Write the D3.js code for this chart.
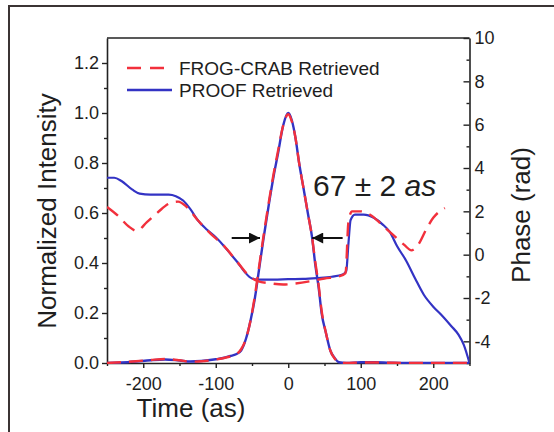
<!DOCTYPE html>
<html>
<head>
<meta charset="utf-8">
<script src="https://cdn.jsdelivr.net/npm/d3@7"></script>
<style>
  html, body { margin: 0; padding: 0; background: #fff; }
  svg { display: block; }
  text { font-family: "Liberation Sans", Arial, sans-serif; fill: #1e1e1e; }
</style>
</head>
<body>
<script>
// ---- Data ----
const timeIntensity = [-250,-230,-210,-190,-170,-150,-135,-120,-100,-90,-80,-72,-65,-58,-52,-46,-40,-34,-27,-20,-14,-7,0,5,10,15,21,27,33,37,42,46,52,58,64,70,80,100,120,140,170,250];
const proofIntensity = [0,0.002,0.006,0.011,0.014,0.01,0.006,0.008,0.015,0.02,0.028,0.035,0.05,0.1,0.17,0.26,0.38,0.5,0.63,0.75,0.84,0.95,1.0,0.97,0.9,0.8,0.7,0.6,0.5,0.4,0.3,0.2,0.12,0.05,0.02,0.003,0,0.003,0.003,0.001,0,0];
const frogIntensity  = [0,0.003,0.007,0.012,0.016,0.011,0.005,0.007,0.014,0.019,0.026,0.034,0.055,0.1,0.17,0.27,0.39,0.51,0.64,0.76,0.85,0.95,0.995,0.965,0.9,0.8,0.7,0.6,0.5,0.41,0.31,0.21,0.12,0.05,0.018,0.002,0,0.002,0.002,0.001,0,0];

const timePhaseProof = [-250,-240,-230,-215,-205,-190,-165,-155,-145,-135,-125,-112,-100,-90,-80,-70,-60,-50,-40,-20,0,20,40,60,75,80,83,86,92,104,118,130,140,150,163,175,187,200,211,225,235,242,250];
const proofPhase     = [3.55,3.55,3.4,3.0,2.82,2.77,2.77,2.7,2.5,2.1,1.6,1.15,0.8,0.45,0.05,-0.35,-0.8,-1.1,-1.15,-1.15,-1.13,-1.12,-1.08,-1.02,-0.92,-0.75,0.5,1.6,1.85,1.85,1.7,1.4,1.05,0.4,-0.3,-1.1,-1.85,-2.4,-2.77,-3.3,-3.7,-4.15,-5.0];

const timePhaseFrog = [-250,-235,-220,-209,-195,-180,-165,-152,-140,-125,-105,-90,-70,-55,-42,-25,-7,10,30,50,70,79,83,88,100,115,130,145,160,170,180,190,200,216];
const frogPhase     = [2.2,1.8,1.3,1.1,1.5,1.95,2.35,2.45,2.2,1.6,0.9,0.45,-0.35,-0.95,-1.22,-1.32,-1.38,-1.33,-1.23,-1.1,-1.0,-0.85,1.5,2.0,2.0,1.8,1.35,0.9,0.45,0.2,0.5,1.15,1.7,2.15];

const timeTicks = [-200,-100,0,100,200];
const intensityTicks = [0,0.2,0.4,0.6,0.8,1.0,1.2];
const phaseTicks = [-4,-2,0,2,4,6,8,10];
const seriesNames = ["FROG-CRAB Retrieved","PROOF Retrieved"];

// ---- Layout ----
const W = 554, H = 432;
const L = 107, R = 469.5, T = 38, B = 363;
const red = "#f2303c", blue = "#3333c4", ink = "#222";

const svg = d3.select("body").append("svg").attr("width", W).attr("height", H);
svg.append("rect").attr("width", W).attr("height", H).attr("fill", "#fff");

// outer frame (left + top)
svg.append("path").attr("d", `M9,432 L9,6 L554,6`).attr("fill","none").attr("stroke","#3b3434").attr("stroke-width",2);

const x = d3.scaleLinear([-250, 250], [L, R]);
const yI = d3.scaleLinear([0, 1.3], [B, T]);
const yP = d3.scaleLinear([-5, 10], [B, T]);

const hyphen = d => String(d);

// minor ticks
const minorX = d3.range(-250, 251, 50).filter(v => !timeTicks.includes(v));
const minorI = [0.1,0.3,0.5,0.7,0.9,1.1];
const minorP = [-5,-3,-1,1,3,5,7,9];

// bottom axis
const gx = svg.append("g").attr("transform", `translate(0,${B})`)
  .call(d3.axisBottom(x).tickValues(timeTicks).tickFormat(hyphen).tickSize(5).tickSizeOuter(0));
svg.append("g").attr("transform", `translate(0,${B})`)
  .call(d3.axisBottom(x).tickValues(minorX).tickFormat("").tickSize(3).tickSizeOuter(0))
  .select(".domain").remove();

// left axis
const gy = svg.append("g").attr("transform", `translate(${L},0)`)
  .call(d3.axisLeft(yI).tickValues(intensityTicks).tickFormat(d => d.toFixed(1)).tickSize(5).tickSizeOuter(0));
svg.append("g").attr("transform", `translate(${L},0)`)
  .call(d3.axisLeft(yI).tickValues(minorI).tickFormat("").tickSize(3).tickSizeOuter(0))
  .select(".domain").remove();

// right axis (ticks inward)
const gr = svg.append("g").attr("transform", `translate(${R},0)`)
  .call(d3.axisRight(yP).tickValues(phaseTicks).tickFormat(hyphen).tickSize(-6).tickSizeOuter(0));
gr.selectAll(".tick text").attr("x", 5);
svg.append("g").attr("transform", `translate(${R},0)`)
  .call(d3.axisRight(yP).tickValues(minorP).tickFormat("").tickSize(-3).tickSizeOuter(0))
  .select(".domain").remove();

// top border
svg.append("line").attr("x1", L).attr("x2", R).attr("y1", T).attr("y2", T).attr("stroke", ink).attr("stroke-width", 1.6);

svg.selectAll(".domain").attr("stroke", ink).attr("stroke-width", 1.6);
svg.selectAll(".tick line").attr("stroke", ink).attr("stroke-width", 1.4);
svg.selectAll(".tick text").attr("font-size", 18).attr("font-family", "Liberation Sans, Arial, sans-serif").attr("fill", "#1e1e1e");
gx.selectAll(".tick text").attr("dy", "1.05em");
gy.selectAll(".tick text").attr("x", -8);

// ---- Curves ----
const clip = svg.append("clipPath").attr("id", "plotclip").append("rect")
  .attr("x", L).attr("y", T).attr("width", R - L).attr("height", B - T + 1);
const plot = svg.append("g").attr("clip-path", "url(#plotclip)");

const lineI = d3.line().x(d => x(d[0])).y(d => yI(d[1])).curve(d3.curveMonotoneX);
const lineP = d3.line().x(d => x(d[0])).y(d => yP(d[1])).curve(d3.curveMonotoneX);

const zip = (a, b) => a.map((v, i) => [v, b[i]]);

plot.append("path").attr("d", lineP(zip(timePhaseProof, proofPhase)))
  .attr("fill","none").attr("stroke", blue).attr("stroke-width", 2.2);
plot.append("path").attr("d", lineI(zip(timeIntensity, proofIntensity)))
  .attr("fill","none").attr("stroke", blue).attr("stroke-width", 2.4);
plot.append("path").attr("d", lineP(zip(timePhaseFrog, frogPhase)))
  .attr("fill","none").attr("stroke", red).attr("stroke-width", 2.4).attr("stroke-dasharray", "14,8");
plot.append("path").attr("d", lineI(zip(timeIntensity, frogIntensity)))
  .attr("fill","none").attr("stroke", red).attr("stroke-width", 2.4).attr("stroke-dasharray", "14,8");

// ---- Legend ----
const legend = svg.append("g");
legend.append("line").attr("x1", 127).attr("x2", 172).attr("y1", 68).attr("y2", 68)
  .attr("stroke", red).attr("stroke-width", 2.4).attr("stroke-dasharray", "14,9");
legend.append("line").attr("x1", 127).attr("x2", 172).attr("y1", 90).attr("y2", 90)
  .attr("stroke", blue).attr("stroke-width", 2.4);
legend.append("text").attr("x", 179).attr("y", 75).attr("font-size", 19).text(seriesNames[0]);
legend.append("text").attr("x", 179).attr("y", 97).attr("font-size", 19).text(seriesNames[1]);

// ---- FWHM annotation ----
const arrowY = yI(0.5);
const defs = svg.append("defs");
defs.append("marker").attr("id", "ah").attr("viewBox", "0 0 10 10").attr("refX", 10).attr("refY", 5)
  .attr("markerWidth", 13).attr("markerHeight", 11).attr("markerUnits", "userSpaceOnUse").attr("orient", "auto")
  .append("path").attr("d", "M0,0 L10,5 L0,10 Z").attr("fill", "#111");
svg.append("line").attr("x1", x(-78)).attr("x2", x(-39)).attr("y1", arrowY).attr("y2", arrowY)
  .attr("stroke", "#111").attr("stroke-width", 2).attr("marker-end", "url(#ah)");
svg.append("line").attr("x1", x(75)).attr("x2", x(33)).attr("y1", arrowY).attr("y2", arrowY)
  .attr("stroke", "#111").attr("stroke-width", 2).attr("marker-end", "url(#ah)");

const ann = svg.append("text").attr("x", 313).attr("y", 196).attr("font-size", 30);
ann.append("tspan").text("67 \u00b1 2 ");
ann.append("tspan").attr("font-style", "italic").text("as");

// ---- Axis titles ----
svg.append("text").attr("x", 191).attr("y", 417).attr("text-anchor", "middle").attr("font-size", 26).text("Time (as)");
svg.append("text").attr("transform", "translate(56,211) rotate(-90)").attr("text-anchor", "middle").attr("font-size", 26).text("Normalized Intensity");
svg.append("text").attr("transform", "translate(530,215) rotate(-90)").attr("text-anchor", "middle").attr("font-size", 26).text("Phase (rad)");
</script>
</body>
</html>
